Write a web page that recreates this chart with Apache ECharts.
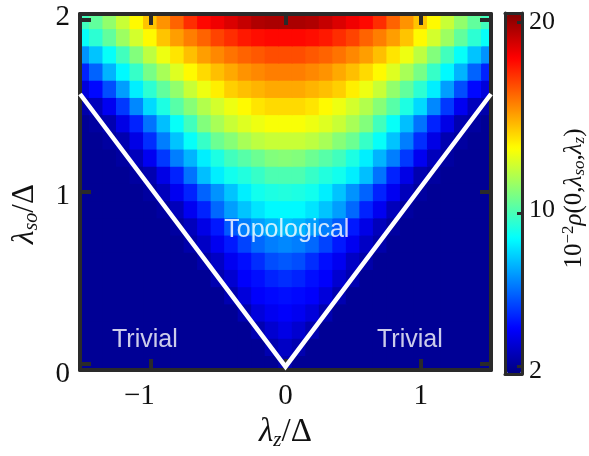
<!DOCTYPE html>
<html>
<head>
<meta charset="utf-8">
<script src="https://cdn.jsdelivr.net/npm/echarts@6/dist/echarts.min.js"></script>
<style>html,body{margin:0;padding:0;background:#fff}#c{width:589px;height:456px}</style>
</head>
<body>
<div id="c"></div>
<script>
// lambda_z / Delta column centres
const xCats = [-1.5,-1.4,-1.3,-1.2,-1.1,-1.0,-0.9,-0.8,-0.7,-0.6,-0.5,-0.4,-0.3,-0.2,-0.1,0,0.1,0.2,0.3,0.4,0.5,0.6,0.7,0.8,0.9,1.0,1.1,1.2,1.3,1.4,1.5];
// lambda_so / Delta row centres
const yCats = [0,0.1,0.2,0.3,0.4,0.5,0.6,0.7,0.8,0.9,1.0,1.1,1.2,1.3,1.4,1.5,1.6,1.7,1.8,1.9,2.0];
// 10^-2 rho(0, lambda_so, lambda_z), one array per row (bottom row first)
const r00 = [2.0,2.0,2.0,2.0,2.0,2.0,2.0,2.0,2.0,2.0,2.0,2.0,2.0,2.0,2.0,2.5,2.0,2.0,2.0,2.0,2.0,2.0,2.0,2.0,2.0,2.0,2.0,2.0,2.0,2.0,2.0];
const r01 = [2.0,2.0,2.0,2.0,2.0,2.0,2.0,2.0,2.0,2.0,2.0,2.0,2.0,2.0,2.5,2.9,2.5,2.0,2.0,2.0,2.0,2.0,2.0,2.0,2.0,2.0,2.0,2.0,2.0,2.0,2.0];
const r02 = [2.0,2.0,2.0,2.0,2.0,2.0,2.0,2.0,2.0,2.0,2.0,2.0,2.0,2.5,3.1,3.5,3.1,2.5,2.0,2.0,2.0,2.0,2.0,2.0,2.0,2.0,2.0,2.0,2.0,2.0,2.0];
const r03 = [2.0,2.0,2.0,2.0,2.0,2.0,2.0,2.0,2.0,2.0,2.0,2.0,2.5,3.3,3.7,3.9,3.7,3.3,2.5,2.0,2.0,2.0,2.0,2.0,2.0,2.0,2.0,2.0,2.0,2.0,2.0];
const r04 = [2.0,2.0,2.0,2.0,2.0,2.0,2.0,2.0,2.0,2.0,2.0,2.5,3.3,3.9,4.1,4.2,4.1,3.9,3.3,2.5,2.0,2.0,2.0,2.0,2.0,2.0,2.0,2.0,2.0,2.0,2.0];
const r05 = [2.0,2.0,2.0,2.0,2.0,2.0,2.0,2.0,2.0,2.0,2.5,3.1,3.9,4.2,4.6,4.8,4.6,4.2,3.9,3.1,2.5,2.0,2.0,2.0,2.0,2.0,2.0,2.0,2.0,2.0,2.0];
const r06 = [2.0,2.0,2.0,2.0,2.0,2.0,2.0,2.0,2.0,2.4,2.9,3.7,4.2,4.8,5.4,5.6,5.4,4.8,4.2,3.7,2.9,2.4,2.0,2.0,2.0,2.0,2.0,2.0,2.0,2.0,2.0];
const r07 = [2.0,2.0,2.0,2.0,2.0,2.0,2.0,2.0,2.4,2.9,3.7,4.4,5.2,5.9,6.3,6.5,6.3,5.9,5.2,4.4,3.7,2.9,2.4,2.0,2.0,2.0,2.0,2.0,2.0,2.0,2.0];
const r08 = [2.0,2.0,2.0,2.0,2.0,2.0,2.0,2.2,2.7,3.5,4.4,5.6,6.3,6.9,7.3,7.5,7.3,6.9,6.3,5.6,4.4,3.5,2.7,2.2,2.0,2.0,2.0,2.0,2.0,2.0,2.0];
const r09 = [2.0,2.0,2.0,2.0,2.0,2.0,2.2,2.7,3.7,4.6,5.9,6.9,7.6,8.2,8.6,8.6,8.6,8.2,7.6,6.9,5.9,4.6,3.7,2.7,2.2,2.0,2.0,2.0,2.0,2.0,2.0];
const r10 = [2.0,2.0,2.0,2.0,2.0,2.2,2.7,3.7,4.6,5.8,6.7,7.6,8.4,9.0,9.2,9.3,9.2,9.0,8.4,7.6,6.7,5.8,4.6,3.7,2.7,2.2,2.0,2.0,2.0,2.0,2.0];
const r11 = [2.0,2.0,2.0,2.0,2.2,2.5,3.5,4.6,6.1,7.5,8.4,9.0,9.3,9.7,10.1,10.1,10.1,9.7,9.3,9.0,8.4,7.5,6.1,4.6,3.5,2.5,2.2,2.0,2.0,2.0,2.0];
const r12 = [2.0,2.0,2.0,2.2,2.7,3.7,5.0,6.3,7.3,8.4,9.2,9.9,10.3,10.7,11.1,11.2,11.1,10.7,10.3,9.9,9.2,8.4,7.3,6.3,5.0,3.7,2.7,2.2,2.0,2.0,2.0];
const r13 = [2.0,2.0,2.2,2.5,3.5,4.8,6.3,7.6,8.8,9.7,10.7,11.2,11.8,12.2,12.4,12.4,12.4,12.2,11.8,11.2,10.7,9.7,8.8,7.6,6.3,4.8,3.5,2.5,2.2,2.0,2.0];
const r14 = [2.0,2.2,2.5,3.5,4.6,6.1,7.5,8.8,9.9,11.1,11.8,12.4,12.8,13.1,13.3,13.3,13.3,13.1,12.8,12.4,11.8,11.1,9.9,8.8,7.5,6.1,4.6,3.5,2.5,2.2,2.0];
const r15 = [2.4,2.7,3.7,5.0,6.5,8.0,9.2,10.3,11.2,12.0,12.6,13.1,13.5,13.9,14.1,14.1,14.1,13.9,13.5,13.1,12.6,12.0,11.2,10.3,9.2,8.0,6.5,5.0,3.7,2.7,2.4];
const r16 = [3.3,4.1,5.4,6.9,8.4,9.5,10.5,11.4,12.4,13.1,13.7,14.3,14.6,14.8,15.0,15.0,15.0,14.8,14.6,14.3,13.7,13.1,12.4,11.4,10.5,9.5,8.4,6.9,5.4,4.1,3.3];
const r17 = [4.6,5.8,7.3,8.6,9.7,10.9,11.8,12.8,13.5,14.1,14.6,15.0,15.4,15.6,15.8,15.8,15.8,15.6,15.4,15.0,14.6,14.1,13.5,12.8,11.8,10.9,9.7,8.6,7.3,5.8,4.6];
const r18 = [6.7,7.6,8.8,9.9,11.1,12.2,13.1,13.9,14.6,15.2,15.6,16.0,16.3,16.5,16.7,16.7,16.7,16.5,16.3,16.0,15.6,15.2,14.6,13.9,13.1,12.2,11.1,9.9,8.8,7.6,6.7];
const r19 = [8.8,9.5,10.5,11.6,12.6,13.5,14.5,15.2,15.8,16.3,16.9,17.3,17.7,17.9,18.0,18.0,18.0,17.9,17.7,17.3,16.9,16.3,15.8,15.2,14.5,13.5,12.6,11.6,10.5,9.5,8.8];
const r20 = [9.9,10.5,11.4,12.4,13.5,14.5,15.4,16.3,17.3,18.0,18.4,18.8,19.2,19.6,19.7,19.7,19.7,19.6,19.2,18.8,18.4,18.0,17.3,16.3,15.4,14.5,13.5,12.4,11.4,10.5,9.9];
const rows = [r00,r01,r02,r03,r04,r05,r06,r07,r08,r09,r10,r11,r12,r13,r14,r15,r16,r17,r18,r19,r20];

// phase boundary (white V) and region labels, in axis units
const boundary = [[-1.52,1.57],[0,-0.015],[1.52,1.57]];
const regionLabels = [[0.01,0.78,'Topological'],[-1.04,0.14,'Trivial'],[0.92,0.14,'Trivial']];

const xTicks = [-1,0,1];
const yTicks = [0,1,2];
const cbTicks = [2,10,20];
const cbMin = 1.6, cbMax = 20.5;
const cellW = 0.1, cellH = 0.1;

const cells = [];
rows.forEach((row, j) => row.forEach((v, i) => cells.push([xCats[i], yCats[j], v])));

const FRAME = '#2a2a2a';
const INK = '#111';
const serif = '"Liberation Serif","Times New Roman",serif';
const sans = '"Liberation Sans",Arial,Helvetica,sans-serif';

function frameAxis(extra) {
  return Object.assign({
    type: 'value', z: 10, splitLine: {show: false},
    axisLine: {show: true, onZero: false, lineStyle: {color: FRAME, width: 4}},
    axisTick: {show: false}, axisLabel: {show: false}
  }, extra);
}
const tickStyle = {show: true, inside: true, length: 11, lineStyle: {color: FRAME, width: 4}};

const chart = echarts.init(document.getElementById('c'), null, {renderer: 'canvas'});
chart.setOption({
  animation: false,
  backgroundColor: '#fff',
  grid: [
    {left: 80, top: 14, width: 411, height: 358},
    {left: 505, top: 13, width: 17, height: 361}
  ],
  xAxis: [
    frameAxis({gridIndex: 0, position: 'bottom', min: -1.52, max: 1.52,
      axisTick: Object.assign({customValues: xTicks}, tickStyle),
      axisLabel: {show: true, customValues: xTicks, margin: 12,
        formatter: v => (v < 0 ? '{m|\u2212' + Math.abs(v) + '}' : '{d|' + v + '}'),
        rich: {
          m: {fontFamily: serif, fontSize: 29, color: INK, padding: [0, 22, 0, 0]},
          d: {fontFamily: serif, fontSize: 29, color: INK}
        }},
      name: '{l|λ}{s|z}{n|/Δ}', nameLocation: 'middle', nameGap: 40,
      nameTextStyle: {rich: {
        l: {fontFamily: serif, fontStyle: 'italic', fontSize: 33, color: INK},
        s: {fontFamily: serif, fontStyle: 'italic', fontSize: 21, color: INK, verticalAlign: 'bottom', padding: [16,0,0,0]},
        n: {fontFamily: serif, fontSize: 33, color: INK}
      }}
    }),
    frameAxis({gridIndex: 0, position: 'top', min: -1.52, max: 1.52,
      axisTick: Object.assign({customValues: xTicks}, tickStyle)}),
    frameAxis({gridIndex: 1, position: 'bottom', min: 0, max: 1, axisLine: {show: true, onZero: false, lineStyle: {color: FRAME, width: 3}}}),
    frameAxis({gridIndex: 1, position: 'top', min: 0, max: 1, axisLine: {show: true, onZero: false, lineStyle: {color: FRAME, width: 3}}})
  ],
  yAxis: [
    frameAxis({gridIndex: 0, position: 'left', min: -0.035, max: 2.035,
      axisTick: Object.assign({customValues: yTicks}, tickStyle),
      axisLabel: {show: true, customValues: yTicks, margin: 10,
        formatter: v => '{y' + v + '|' + v + '}',
        rich: {
          y0: {fontFamily: serif, fontSize: 29, color: INK, padding: [20, 0, 0, 0]},
          y1: {fontFamily: serif, fontSize: 29, color: INK, padding: [8, 0, 0, 0]},
          y2: {fontFamily: serif, fontSize: 29, color: INK, padding: [0, 0, 5, 0]}
        }},
      name: '{l|λ}{s|so}{n|/Δ}', nameLocation: 'middle', nameRotate: 90, nameGap: 38,
      nameTextStyle: {padding: [0, 44, 0, 0], rich: {
        l: {fontFamily: serif, fontStyle: 'italic', fontSize: 31, color: INK},
        s: {fontFamily: serif, fontStyle: 'italic', fontSize: 20, color: INK, verticalAlign: 'bottom', padding: [15,0,0,0]},
        n: {fontFamily: serif, fontSize: 31, color: INK}
      }}
    }),
    frameAxis({gridIndex: 0, position: 'right', min: -0.035, max: 2.035,
      axisTick: Object.assign({customValues: yTicks}, tickStyle)}),
    frameAxis({gridIndex: 1, position: 'left', min: cbMin, max: cbMax, axisLine: {show: true, onZero: false, lineStyle: {color: FRAME, width: 3}}}),
    frameAxis({gridIndex: 1, position: 'right', min: cbMin, max: cbMax,
      axisLine: {show: true, onZero: false, lineStyle: {color: FRAME, width: 3}},
      axisTick: {show: true, inside: true, length: 5, customValues: cbTicks, lineStyle: {color: FRAME, width: 3}},
      axisLabel: {show: true, customValues: cbTicks, margin: 7,
        formatter: v => '{c' + v + '|' + v + '}',
        rich: {
          c2: {fontFamily: serif, fontSize: 26, color: INK, padding: [10, 0, 0, 0]},
          c10: {fontFamily: serif, fontSize: 26, color: INK, padding: [0, 0, 6, 0]},
          c20: {fontFamily: serif, fontSize: 26, color: INK}
        }},
      name: '{n|10}{sup|−2}{i|ρ}{n|(0,}{i|λ}{sub|so}{n|,}{i|λ}{sub|z}{n|)}',
      nameLocation: 'middle', nameRotate: 90, nameGap: 38,
      nameTextStyle: {padding: [0, 10, 0, 0], rich: {
        n: {fontFamily: serif, fontSize: 25, color: INK},
        i: {fontFamily: serif, fontStyle: 'italic', fontSize: 25, color: INK},
        sup: {fontFamily: serif, fontSize: 17, color: INK, verticalAlign: 'top', padding: [0,0,11,0]},
        sub: {fontFamily: serif, fontStyle: 'italic', fontSize: 17, color: INK, verticalAlign: 'bottom', padding: [11,0,0,0]}
      }}
    })
  ],
  visualMap: {
    type: 'continuous', seriesIndex: 0, dimension: 2,
    min: cbMin, max: cbMax, calculable: false, realtime: false,
    left: 507, top: 13, itemWidth: 14, itemHeight: 361, padding: 0,
    text: null, showLabel: false, hoverLink: false,
    inRange: {color: ['#00007F','#0000FF','#007FFF','#00FFFF','#7FFF7F','#FFFF00','#FF7F00','#FF0000','#7F0000']}
  },
  series: [
    {type: 'custom', xAxisIndex: 0, yAxisIndex: 0, data: cells, clip: true, silent: true,
      encode: {x: 0, y: 1},
      renderItem: function (params, api) {
        const x = api.value(0), y = api.value(1);
        const p0 = api.coord([x - cellW / 2, y + cellH / 2]);
        const p1 = api.coord([x + cellW / 2, y - cellH / 2]);
        return {type: 'rect',
          shape: {x: p0[0] - 0.5, y: p0[1] - 0.5, width: p1[0] - p0[0] + 1, height: p1[1] - p0[1] + 1},
          style: {fill: api.visual('color')}};
      }},
    {type: 'line', xAxisIndex: 0, yAxisIndex: 0, data: boundary, symbol: 'none', z: 11,
      lineStyle: {color: '#fff', width: 4.5, join: 'miter'}, silent: true},
    {type: 'scatter', xAxisIndex: 0, yAxisIndex: 0, symbolSize: 0, z: 12, silent: true,
      data: regionLabels.map(d => ({value: [d[0], d[1]], name: d[2]})),
      label: {show: true, position: 'inside', formatter: p => p.name, color: '#fff',
        fontFamily: sans, fontSize: 25}}
  ]
});
</script>
</body>
</html>
